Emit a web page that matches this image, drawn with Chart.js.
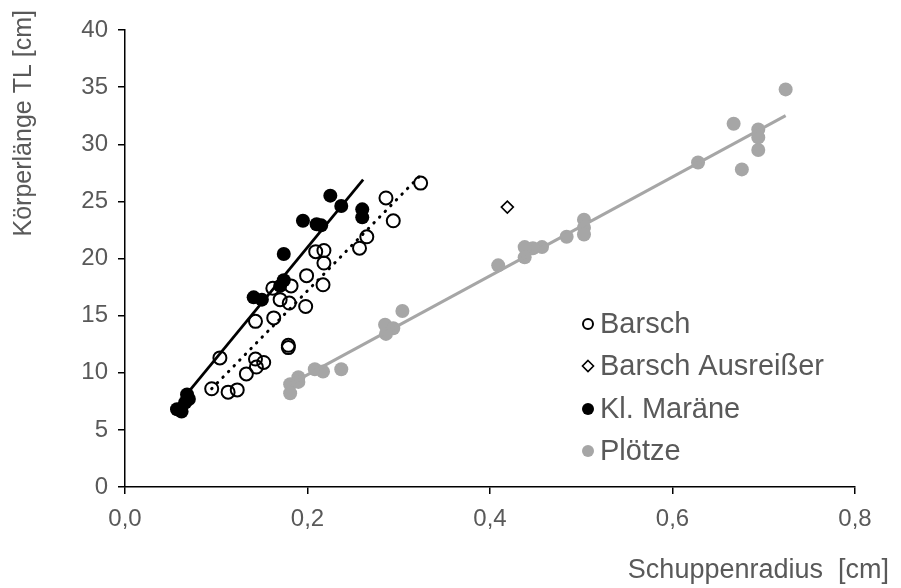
<!DOCTYPE html>
<html>
<head>
<meta charset="utf-8">
<script src="https://cdn.jsdelivr.net/npm/chart.js@4.4.1/dist/chart.umd.min.js"></script>
<style>
  html, body { margin: 0; padding: 0; background: #fff; }
  #wrap { width: 901px; height: 588px; position: relative; }
</style>
</head>
<body>
<div id="wrap"><canvas id="chart"></canvas></div>
<script>
// Schuppenradius [cm] -> Körperlänge TL [cm]
const barschX = [0.324, 0.286, 0.294, 0.265, 0.257, 0.209, 0.218, 0.218, 0.199, 0.217, 0.162, 0.182, 0.170, 0.180,
  0.198, 0.163, 0.143, 0.179, 0.179, 0.104, 0.143, 0.152, 0.144, 0.133, 0.095, 0.113, 0.123];
const barschY = [26.6, 25.3, 23.3, 21.9, 20.9, 20.6, 20.7, 19.6, 18.5, 17.7, 17.4, 17.6, 16.4, 16.1,
  15.8, 14.8, 14.5, 12.4, 12.2, 11.3, 11.2, 10.9, 10.5, 9.9, 8.6, 8.3, 8.5];

const ausreisserX = [0.419];
const ausreisserY = [24.5];

const maraeneX = [0.225, 0.237, 0.260, 0.260, 0.195, 0.210, 0.215, 0.174, 0.174, 0.170, 0.141, 0.150,
  0.068, 0.070, 0.066, 0.057, 0.062];
const maraeneY = [25.5, 24.6, 24.3, 23.6, 23.3, 23.0, 22.9, 20.4, 18.1, 17.6, 16.6, 16.4,
  8.1, 7.7, 7.4, 6.8, 6.6];

const ploetzeX = [0.724, 0.667, 0.694, 0.694, 0.694, 0.628, 0.676, 0.503, 0.503, 0.503, 0.484, 0.457, 0.447,
  0.438, 0.438, 0.409, 0.304, 0.285, 0.294, 0.286, 0.237, 0.208, 0.217, 0.190, 0.181, 0.190, 0.181];
const ploetzeY = [34.8, 31.8, 31.3, 30.6, 29.5, 28.4, 27.8, 23.4, 22.7, 22.1, 21.9, 21.0, 20.9,
  21.0, 20.1, 19.4, 15.4, 14.2, 13.9, 13.4, 10.3, 10.3, 10.1, 9.6, 9.0, 9.2, 8.2];

// lineare Trendlinien (Start/Ende)
const trendBarschX = [0.095, 0.324];
const trendBarschY = [8.6, 27.3];
const trendMaraeneX = [0.057, 0.261];
const trendMaraeneY = [7.1, 26.9];
const trendPloetzeX = [0.181, 0.724];
const trendPloetzeY = [9.0, 32.5];

const xTicks = [0, 0.2, 0.4, 0.6, 0.8];
const yTicks = [0, 5, 10, 15, 20, 25, 30, 35, 40];

const FONT = "'Liberation Sans', Arial, sans-serif";
const TEXT = '#595959';
const GREY = '#A6A6A6';

const pts = (xs, ys) => xs.map((x, i) => ({ x: x, y: ys[i] }));

const datasets = [
  {
    label: 'Barsch', data: pts(barschX, barschY),
    pointStyle: 'circle', pointRadius: 6.5, pointBorderWidth: 2,
    pointBorderColor: '#000', pointBackgroundColor: 'rgba(0,0,0,0)',
    showLine: false, order: 4
  },
  {
    label: 'Barsch Ausreißer', data: pts(ausreisserX, ausreisserY),
    pointStyle: 'rectRot', pointRadius: 6, pointBorderWidth: 1.6,
    pointBorderColor: '#000', pointBackgroundColor: '#fff',
    showLine: false, order: 4
  },
  {
    label: 'Kl. Maräne', data: pts(maraeneX, maraeneY),
    pointStyle: 'circle', pointRadius: 7, pointBorderWidth: 0,
    pointBorderColor: '#000', pointBackgroundColor: '#000',
    showLine: false, order: 4
  },
  {
    label: 'Plötze', data: pts(ploetzeX, ploetzeY),
    pointStyle: 'circle', pointRadius: 7, pointBorderWidth: 0,
    pointBorderColor: GREY, pointBackgroundColor: GREY,
    showLine: false, order: 4
  },
  {
    label: 'trend Barsch', data: pts(trendBarschX, trendBarschY), trend: true,
    showLine: true, pointRadius: 0, borderColor: '#000', borderWidth: 3,
    borderDash: [0.5, 7.5], borderCapStyle: 'round', order: 1
  },
  {
    label: 'trend Maräne', data: pts(trendMaraeneX, trendMaraeneY), trend: true,
    showLine: true, pointRadius: 0, borderColor: '#000', borderWidth: 2.75, order: 1
  },
  {
    label: 'trend Plötze', data: pts(trendPloetzeX, trendPloetzeY), trend: true,
    showLine: true, pointRadius: 0, borderColor: GREY, borderWidth: 3, order: 1
  }
];

// Achsentitel und Legende im Diagramm
const extraText = {
  id: 'extraText',
  afterDraw(chart) {
    const ctx = chart.ctx;
    ctx.save();
    ctx.fillStyle = TEXT;

    // y-Titel
    ctx.font = '25px ' + FONT;
    ctx.save();
    ctx.translate(24, 10);
    ctx.rotate(-Math.PI / 2);
    ctx.textAlign = 'right';
    ctx.textBaseline = 'middle';
    ctx.fillText('Körperlänge TL [cm]', 0, 0);
    ctx.restore();

    // x-Titel
    ctx.font = '27px ' + FONT;
    ctx.textAlign = 'right';
    ctx.textBaseline = 'middle';
    ctx.fillText('Schuppenradius  [cm]', 889, 571);

    // Legende
    const rows = [324, 366, 409, 451];
    const items = chart.data.datasets.filter(d => !d.trend);
    ctx.font = '29px ' + FONT;
    ctx.textAlign = 'left';
    items.forEach((d, i) => {
      const y = rows[i];
      const mx = 588;
      ctx.beginPath();
      if (d.pointStyle === 'rectRot') {
        ctx.moveTo(mx, y - 5.5);
        ctx.lineTo(mx + 5.5, y);
        ctx.lineTo(mx, y + 5.5);
        ctx.lineTo(mx - 5.5, y);
        ctx.closePath();
        ctx.lineWidth = 1.6;
        ctx.strokeStyle = '#000';
        ctx.stroke();
      } else if (d.pointBackgroundColor === 'rgba(0,0,0,0)') {
        ctx.arc(mx, y, 5, 0, Math.PI * 2);
        ctx.lineWidth = 2;
        ctx.strokeStyle = '#000';
        ctx.stroke();
      } else {
        ctx.arc(mx, y, 6, 0, Math.PI * 2);
        ctx.fillStyle = d.pointBackgroundColor;
        ctx.fill();
      }
      ctx.fillStyle = TEXT;
      ctx.fillText(d.label, 600, y + 1);
    });
    ctx.restore();
  }
};

new Chart(document.getElementById('chart'), {
  type: 'scatter',
  data: { datasets: datasets },
  options: {
    responsive: true,
    maintainAspectRatio: false,
    animation: false,
    layout: { padding: { top: 30, right: 46, bottom: 0, left: 0 } },
    plugins: {
      legend: { display: false },
      tooltip: { enabled: false }
    },
    scales: {
      x: {
        type: 'linear',
        min: 0, max: 0.8,
        afterBuildTicks: (s) => { s.ticks = xTicks.map(v => ({ value: v })); },
        afterFit: (s) => { s.height = 101; },
        ticks: {
          color: TEXT, padding: 11,
          font: { family: FONT, size: 24 },
          callback: (v) => Number(v).toFixed(1).replace('.', ',')
        },
        grid: { drawOnChartArea: false, drawTicks: true, tickLength: 7, color: '#000', lineWidth: 1.5 },
        border: { display: true, color: '#000', width: 1.5 }
      },
      y: {
        type: 'linear',
        min: 0, max: 40,
        afterBuildTicks: (s) => { s.ticks = yTicks.map(v => ({ value: v })); },
        afterFit: (s) => { s.width = 125; },
        ticks: {
          color: TEXT, padding: 10,
          font: { family: FONT, size: 24 }
        },
        grid: { drawOnChartArea: false, drawTicks: true, tickLength: 7, color: '#000', lineWidth: 1.5 },
        border: { display: true, color: '#000', width: 1.5 }
      }
    }
  },
  plugins: [extraText]
});
</script>
</body>
</html>
